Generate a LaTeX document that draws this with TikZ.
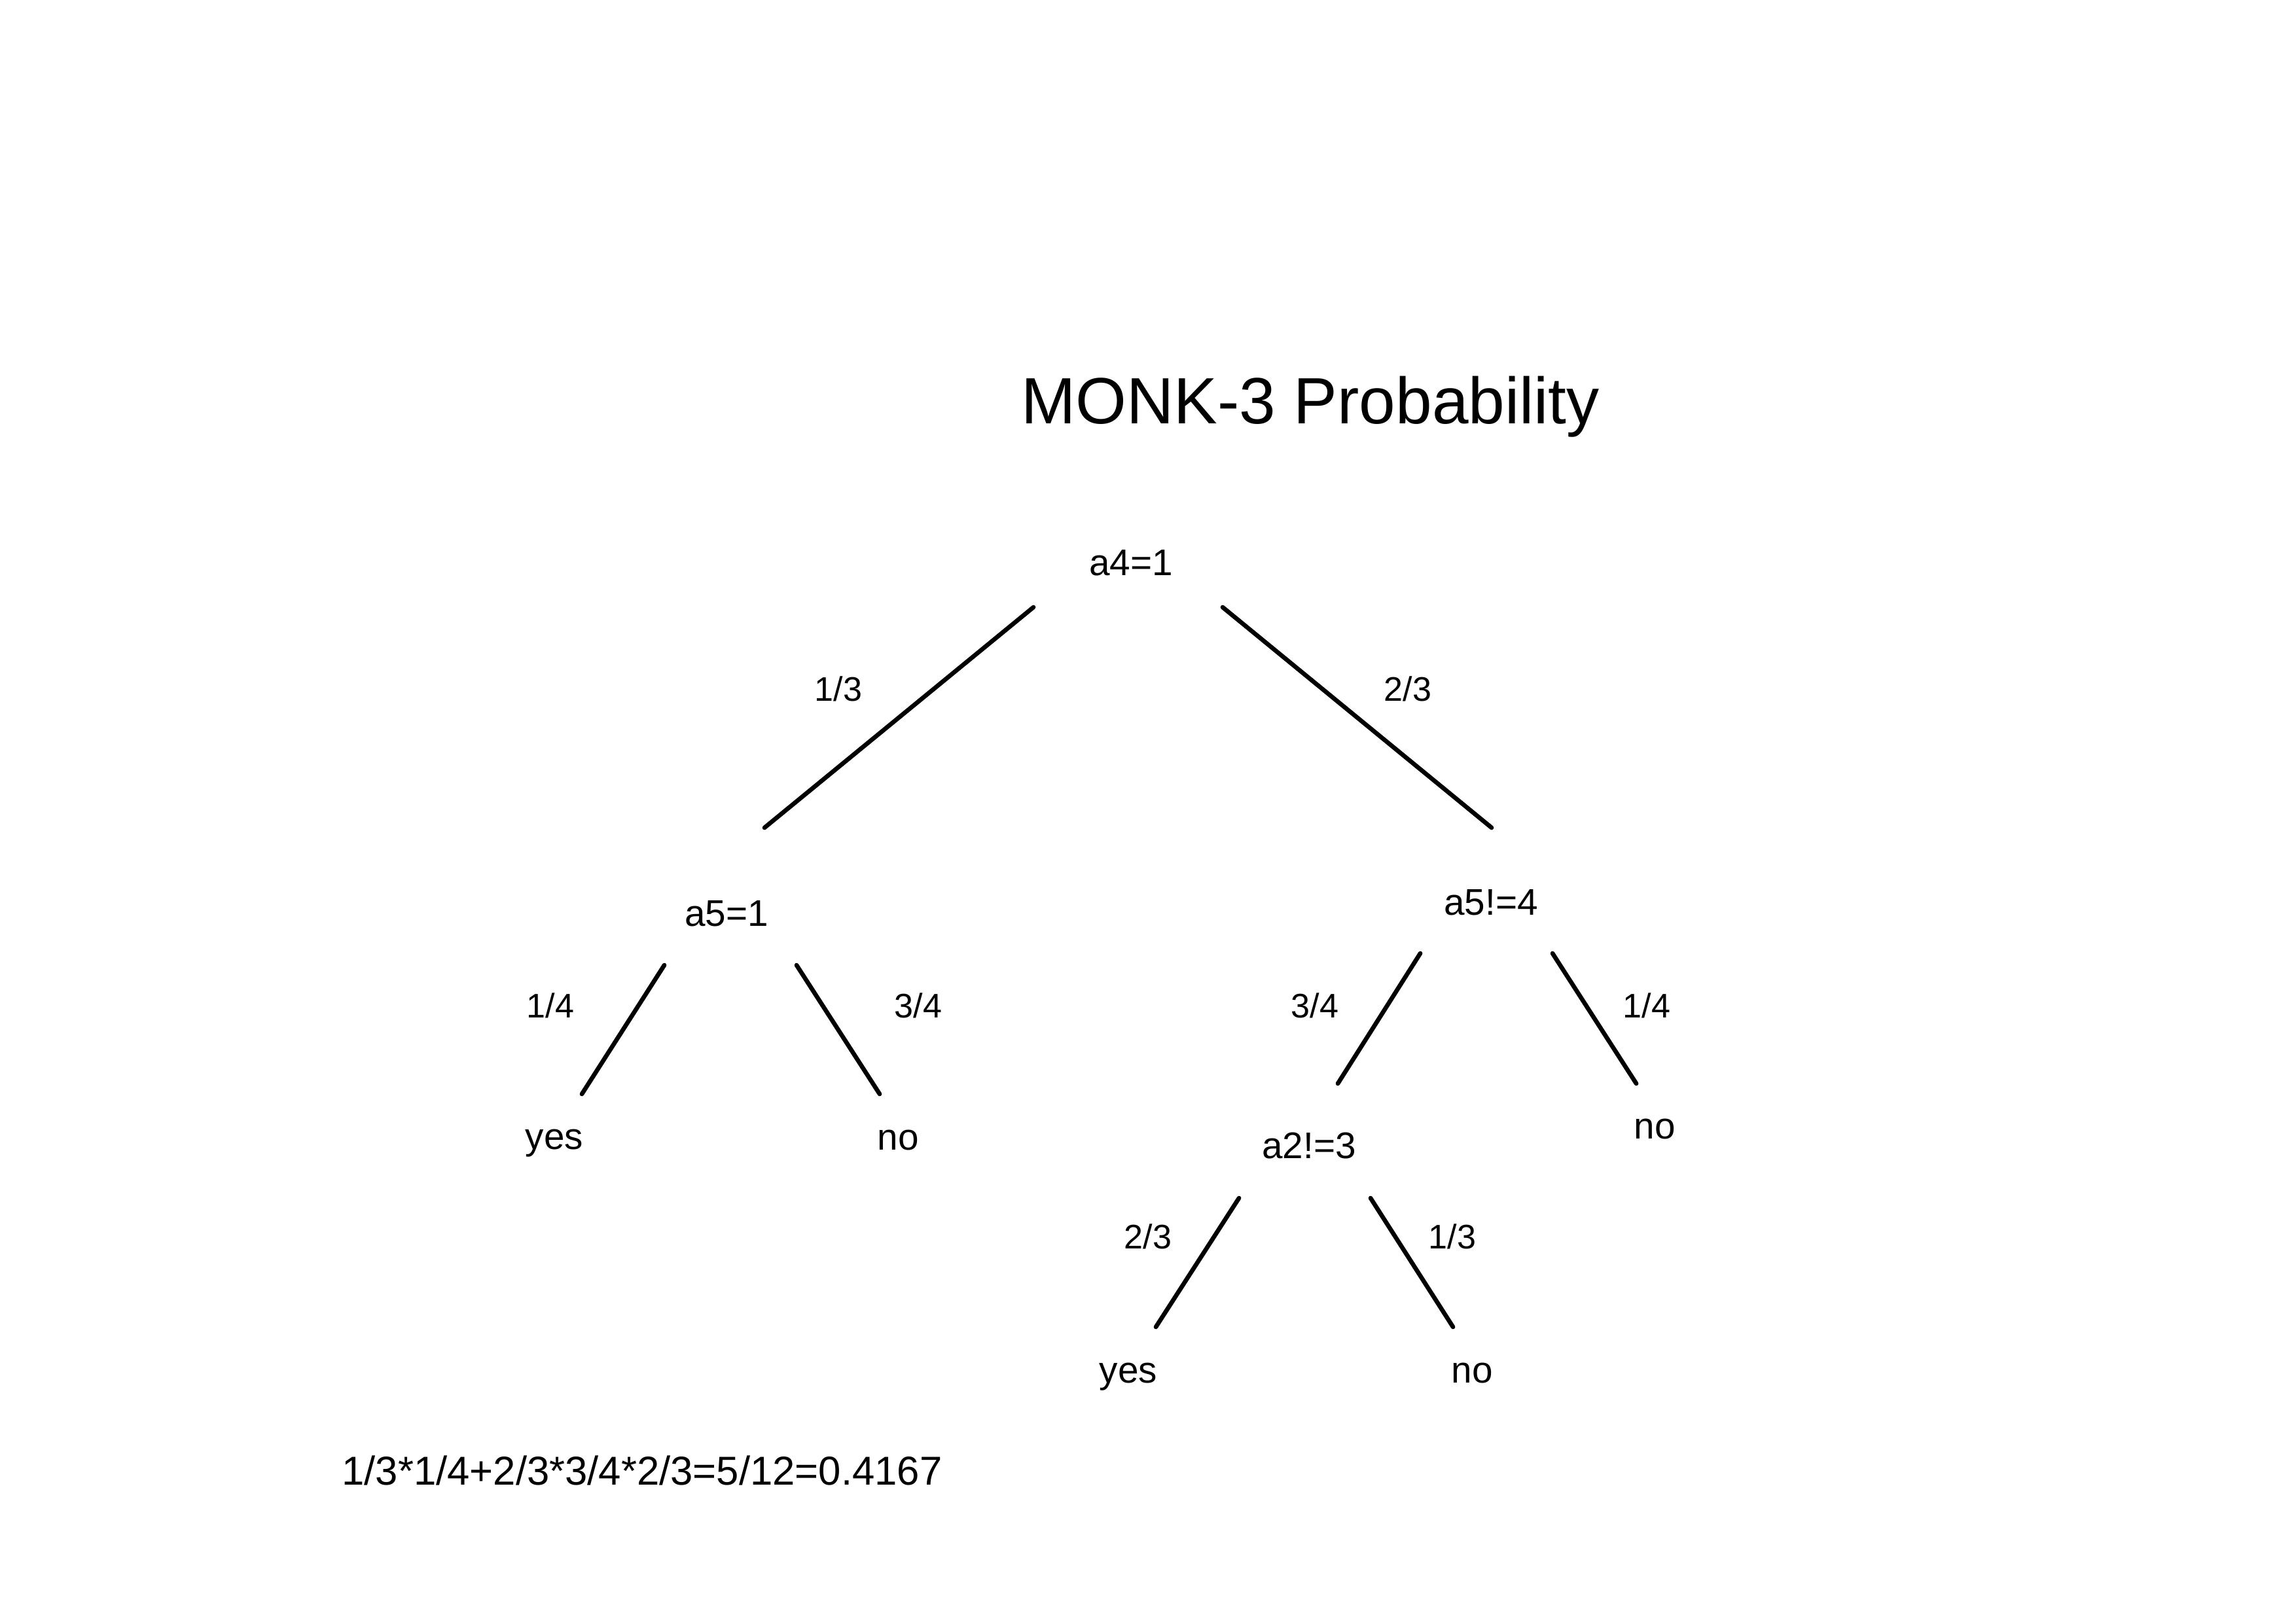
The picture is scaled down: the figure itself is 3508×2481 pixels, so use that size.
\documentclass[tikz,border=0pt]{standalone}
\usepackage{fontspec}
\setmainfont{Liberation Sans}
\begin{document}
\begin{tikzpicture}[x=0.24pt,y=-0.24pt,
  txt/.style={inner sep=0pt, anchor=base, text=black},
  titlefont/.style={txt, font=\fontsize{24}{28}\selectfont},
  nodefont/.style={txt, font=\fontsize{13.6}{16}\selectfont},
  probfont/.style={txt, font=\fontsize{12.5}{15}\selectfont},
  formfont/.style={txt, font=\fontsize{14.8}{18}\selectfont},
  branch/.style={draw=black, line width=1.6pt, line cap=round}]
\useasboundingbox[fill=white] (0,0) rectangle (3508,2481);

% texts
\node[titlefont] (title) at (2002,647) {MONK-3 Probability};
\node[nodefont] (root) at (1728,879) {a4=1};
\node[probfont] (p13a) at (1281,1071) {1/3};
\node[probfont] (p23a) at (2151,1071) {2/3};
\node[nodefont] (a5) at (1110,1415) {a5=1};
\node[nodefont] (a5n) at (2278,1398) {a5!=4};
\node[probfont] (p14a) at (841,1555) {1/4};
\node[probfont] (p34a) at (1403,1555) {3/4};
\node[probfont] (p34b) at (2009,1555) {3/4};
\node[probfont] (p14b) at (2516,1555) {1/4};
\node[nodefont] (yes1) at (847,1756) {yes};
\node[nodefont] (no1) at (1372,1757) {no};
\node[nodefont] (a2) at (2000,1770) {a2!=3};
\node[nodefont] (no2) at (2528,1740) {no};
\node[probfont] (p23b) at (1754,1908) {2/3};
\node[probfont] (p13b) at (2219,1908) {1/3};
\node[nodefont] (yes2) at (1724,2113) {yes};
\node[nodefont] (no3) at (2249,2113) {no};
\node[formfont] (formula) at (981,2269) {1/3*1/4+2/3*3/4*2/3=5/12=0.4167};

% branch end points
\coordinate (rL1) at (1579,928);  \coordinate (rL2) at (1168,1265);
\coordinate (rR1) at (1868,928);  \coordinate (rR2) at (2279,1265);
\coordinate (aL1) at (1015,1475); \coordinate (aL2) at (889,1672);
\coordinate (aR1) at (1217,1475); \coordinate (aR2) at (1344,1672);
\coordinate (bL1) at (2170,1457); \coordinate (bL2) at (2044,1656);
\coordinate (bR1) at (2372,1457); \coordinate (bR2) at (2500,1656);
\coordinate (cL1) at (1893,1831); \coordinate (cL2) at (1766,2028);
\coordinate (cR1) at (2094,1831); \coordinate (cR2) at (2220,2028);

\draw[branch] (rL1) -- (rL2);
\draw[branch] (rR1) -- (rR2);
\draw[branch] (aL1) -- (aL2);
\draw[branch] (aR1) -- (aR2);
\draw[branch] (bL1) -- (bL2);
\draw[branch] (bR1) -- (bR2);
\draw[branch] (cL1) -- (cL2);
\draw[branch] (cR1) -- (cR2);
\end{tikzpicture}
\end{document}
